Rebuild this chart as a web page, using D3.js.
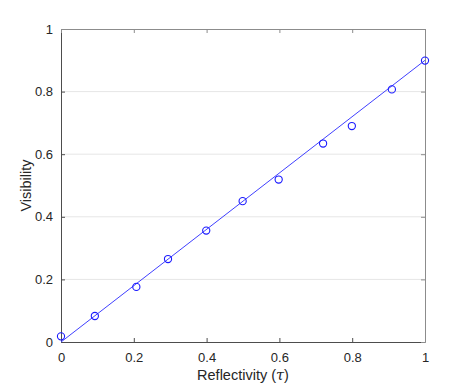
<!DOCTYPE html>
<html>
<head>
<meta charset="utf-8">
<script src="https://cdn.jsdelivr.net/npm/d3@7"></script>
<style>
  body { margin: 0; background: #fff; }
  text { font-family: "Liberation Sans", Arial, sans-serif; }
</style>
</head>
<body>
<div id="chart"></div>
<script>
// Measured points (reflectivity, visibility)
const reflectivity = [0, 0.093, 0.207, 0.294, 0.399, 0.499, 0.598, 0.72, 0.799, 0.909, 1.0];
const visibility = [0.018, 0.083, 0.176, 0.265, 0.356, 0.45, 0.519, 0.634, 0.69, 0.807, 0.899];

// Fitted line end points
const fitX = [0, 1];
const fitY = [0, 0.9];

const ticks = [0, 0.2, 0.4, 0.6, 0.8, 1];

// Set the dimensions and margins of the graph
const W = 469, H = 385;
const margin = {top: 29, right: 44, bottom: 43, left: 61},
    width = W - margin.left - margin.right,
    height = H - margin.top - margin.bottom;

const svg = d3.select("#chart")
    .append("svg")
    .attr("width", W)
    .attr("height", H)
    .append("g")
    .attr("transform", "translate(" + margin.left + "," + margin.top + ")");

const x = d3.scaleLinear().domain([0, 1]).range([0, width]);
const y = d3.scaleLinear().domain([0, 1]).range([height, 0]);

const fmt = d => d === 0 || d === 1 ? String(d) : d3.format(".1f")(d);

// Horizontal grid lines
svg.append("g")
    .selectAll("line")
    .data(ticks.slice(1, -1))
    .enter().append("line")
    .attr("x1", 0)
    .attr("x2", width)
    .attr("y1", d => y(d))
    .attr("y2", d => y(d))
    .attr("stroke", "#e6e6e6")
    .attr("stroke-width", 1);

// Axes (ticks pointing inward, box style)
const axisColor = "#4d4d4d";
const styleAxis = g => {
    g.select(".domain").attr("stroke", axisColor);
    g.selectAll(".tick line").attr("stroke", axisColor);
    g.selectAll(".tick text").attr("fill", "#262626").style("font-size", "13px");
};

svg.append("g")
    .attr("transform", "translate(0," + height + ")")
    .call(d3.axisBottom(x).tickValues(ticks).tickFormat(fmt).tickSizeInner(-4).tickSizeOuter(0).tickPadding(11))
    .call(styleAxis);

svg.append("g")
    .call(d3.axisLeft(y).tickValues(ticks).tickFormat(fmt).tickSizeInner(-4).tickSizeOuter(0).tickPadding(8))
    .call(styleAxis);

svg.append("g")
    .call(d3.axisTop(x).tickValues(ticks).tickFormat("").tickSizeInner(-4).tickSizeOuter(0))
    .call(g => g.select(".domain").attr("stroke", "#8c8c8c"))
    .call(g => g.selectAll(".tick line").attr("stroke", "#8c8c8c"));

svg.append("g")
    .attr("transform", "translate(" + width + ",0)")
    .call(d3.axisRight(y).tickValues(ticks).tickFormat("").tickSizeInner(-4).tickSizeOuter(0))
    .call(g => g.select(".domain").attr("stroke", "#8c8c8c"))
    .call(g => g.selectAll(".tick line").attr("stroke", "#8c8c8c"));

// Axis labels
const xl = svg.append("text")
    .attr("x", width / 2)
    .attr("y", height + 38)
    .attr("text-anchor", "middle")
    .attr("fill", "#262626")
    .style("font-size", "14.5px");
xl.append("tspan").text("Reflectivity (");
xl.append("tspan").style("font-family", "'DejaVu Serif', serif").style("font-style", "italic").text("τ");
xl.append("tspan").text(")");

svg.append("text")
    .attr("transform", "rotate(-90)")
    .attr("x", -height / 2)
    .attr("y", -30)
    .attr("text-anchor", "middle")
    .attr("fill", "#262626")
    .style("font-size", "14.5px")
    .text("Visibility");

// Fitted line
const lineData = fitX.map((d, i) => ({x: d, y: fitY[i]}));
svg.append("path")
    .datum(lineData)
    .attr("d", d3.line().x(d => x(d.x)).y(d => y(d.y)))
    .attr("fill", "none")
    .attr("stroke", "#4040ff")
    .attr("stroke-width", 1);

// Data markers
svg.selectAll(".dot")
    .data(reflectivity.map((d, i) => ({x: d, y: visibility[i]})))
    .enter().append("circle")
    .attr("class", "dot")
    .attr("cx", d => x(d.x))
    .attr("cy", d => y(d.y))
    .attr("r", 3.6)
    .attr("fill", "none")
    .attr("stroke", "#1a1aff")
    .attr("stroke-width", 1.1);
</script>
</body>
</html>
